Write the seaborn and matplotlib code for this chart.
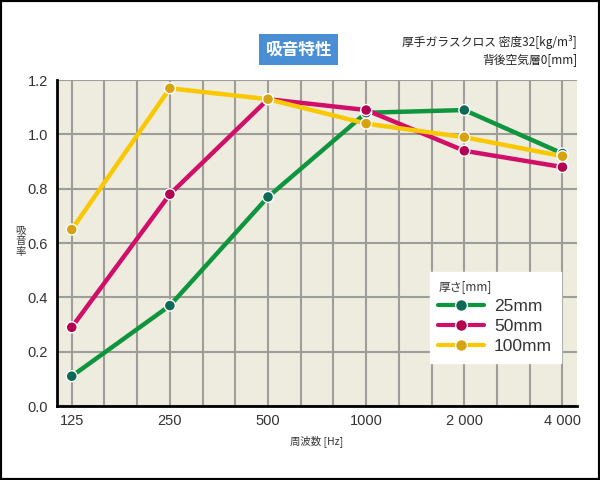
import matplotlib
matplotlib.use("Agg")
import matplotlib.pyplot as plt
from matplotlib.lines import Line2D
from matplotlib.patches import Rectangle
import seaborn as sns
import pandas as pd
import numpy as np

freq_labels = ["125", "250", "500", "1000", "2 000", "4 000"]
series_names = ["25mm", "50mm", "100mm"]
vals_25 = [0.11, 0.37, 0.77, 1.08, 1.09, 0.93]
vals_50 = [0.29, 0.78, 1.13, 1.09, 0.94, 0.88]
vals_100 = [0.65, 1.17, 1.13, 1.04, 0.99, 0.92]
y_ticks = [0.0, 0.2, 0.4, 0.6, 0.8, 1.0, 1.2]
y_label = "吸音率"

line_colors = ["#10953f", "#d20f68", "#f9c800"]
marker_colors = ["#0d6a55", "#b3004f", "#d8a313"]

sns.set_theme(style="white")
plt.rcParams['font.family'] = ['Noto Sans CJK JP', 'DejaVu Sans']
num_font = ['Liberation Sans', 'DejaVu Sans']

rows = []
for name, vals in zip(series_names, [vals_25, vals_50, vals_100]):
    for i, v in enumerate(vals):
        rows.append({"pos": i, "freq": freq_labels[i], "value": v, "series": name})
df = pd.DataFrame(rows)

fig = plt.figure(figsize=(6, 4.8), dpi=100)
ax = fig.add_axes([0.095, 0.154, 0.867, 0.679])
ax.set_facecolor("#eeecdf")

sns.lineplot(data=df, x="pos", y="value", hue="series", hue_order=series_names,
             palette=line_colors, linewidth=3.2, legend=False, ax=ax, zorder=3)
sns.scatterplot(data=df, x="pos", y="value", hue="series", hue_order=series_names,
                palette=marker_colors, s=62, edgecolor="white", linewidth=1.0,
                legend=False, ax=ax, zorder=4)

ax.set_xlim(-0.15, 5.15)
ax.set_ylim(0, 1.2)
ax.set_xticks(range(len(freq_labels)))
ax.set_xticklabels(freq_labels, family=num_font)
ax.set_yticks(y_ticks)
ax.set_yticklabels([f"{t:.1f}" for t in y_ticks], family=num_font)
ax.set_xticks(np.arange(0, 5.01, 1/3), minor=True)
ax.grid(which="both", axis="x", color="#9d9d99", linewidth=1.5, zorder=1)
ax.grid(which="major", axis="y", color="#9d9d99", linewidth=1.5, zorder=1)
ax.set_axisbelow(True)
ax.tick_params(axis="both", which="major", labelsize=10.5, labelcolor="#333333",
               length=3, color="black", width=1)
ax.tick_params(axis="x", which="major", length=0, pad=6)
ax.tick_params(which="minor", length=0)

for s in ["top", "right"]:
    ax.spines[s].set_visible(False)
for s in ["left", "bottom"]:
    ax.spines[s].set_color("black")
    ax.spines[s].set_linewidth(2)

ax.set_xlabel("周波数 [Hz]", fontsize=7.5, color="#333333", labelpad=5)
ax.set_ylabel("")
for k, ch in enumerate(y_label):
    fig.text(0.034, 0.52 - k * 0.023, ch, fontsize=7.5, color="#333333",
             ha="center", va="center")

handles = [Line2D([0], [0], color=lc, linewidth=3, marker="o", markersize=8.5,
                  markerfacecolor=mc, markeredgecolor="white", markeredgewidth=1)
           for lc, mc in zip(line_colors, marker_colors)]
leg = ax.legend(handles, series_names, title="厚さ[mm]", loc="lower right",
                bbox_to_anchor=(0.985, 0.105), fontsize=12, title_fontsize=8.5,
                prop={'family': num_font, 'size': 12.5},
                frameon=True, fancybox=False, framealpha=1, edgecolor="white",
                handlelength=2.6, labelspacing=0.3, borderpad=0.5,
                handletextpad=0.6)
leg._legend_box.align = "left"
leg.get_title().set_color("#333333")
for t in leg.get_texts():
    t.set_color("#333333")

fig.text(0.498, 0.897, "吸音特性", fontsize=12, fontweight="bold", color="white",
         ha="center", va="center",
         bbox=dict(boxstyle="square,pad=0.38", facecolor="#4a8fd6", edgecolor="none"))
fig.text(0.962, 0.912, "厚手ガラスクロス 密度32[kg/m³]", fontsize=8.5,
         color="#222222", ha="right", va="center")
fig.text(0.962, 0.875, "背後空気層0[mm]", fontsize=8.5,
         color="#222222", ha="right", va="center")

fig.patches.append(Rectangle((0, 0), 1, 1, transform=fig.transFigure,
                             fill=False, edgecolor="black", linewidth=3))

fig.savefig("out.png", dpi=100, facecolor="white")
